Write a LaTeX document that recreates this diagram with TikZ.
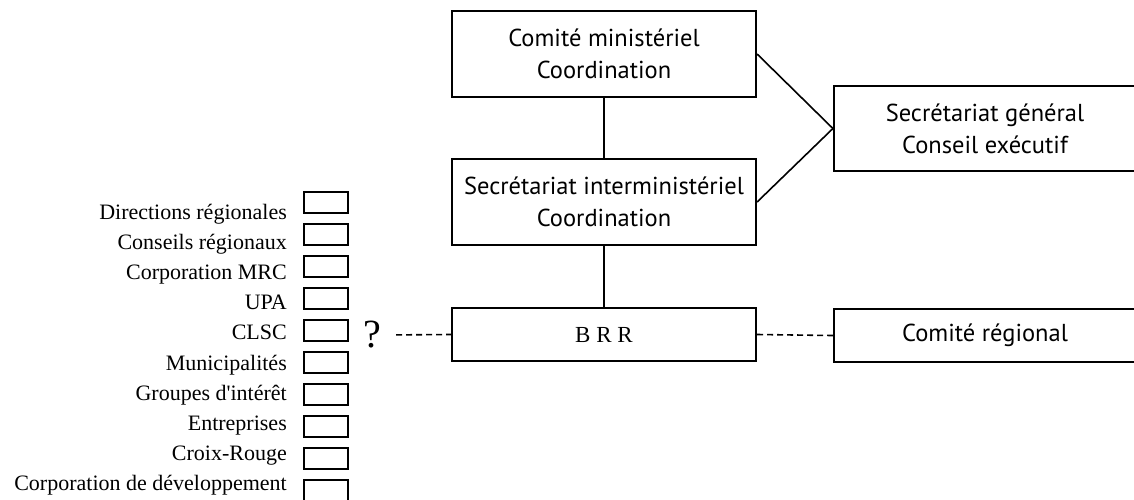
\documentclass[tikz,border=0pt]{standalone}
\usepackage{fontspec}
\setmainfont{Liberation Serif}
\newfontfamily\boxfont{PT Sans}
\begin{document}
\begin{tikzpicture}[x=1pt,y=-1pt,
  bigbox/.style={draw, line width=2.2pt, inner sep=0pt, align=center,
    font=\boxfont\fontsize{24.5}{32}\selectfont, minimum width=304pt, minimum height=86pt},
  lowbox/.style={bigbox, minimum height=53pt},
  rightbox/.style={bigbox, minimum width=302pt},
  smallbox/.style={draw, line width=2pt, inner sep=0pt, minimum width=44pt, minimum height=21pt},
  lab/.style={anchor=base east, inner sep=0pt, font=\fontsize{22}{26}\selectfont},
  link/.style={line width=1.6pt},
  dlink/.style={line width=1.6pt, dash pattern=on 6pt off 4pt}]
\useasboundingbox (0,0) rectangle (1134,499);
\clip (0,0) rectangle (1134,499);

% main boxes
\node[bigbox] (cm) at (604,54) {Comité ministériel\\Coordination};
\node[bigbox] (si) at (604,202) {Secrétariat interministériel\\Coordination};
\node[lowbox, font=\fontsize{23}{26}\selectfont] (brr) at (604,334.5) {B R R};
\node[rightbox, minimum height=85pt] (sg) at (985,128.5) {Secrétariat général\\Conseil exécutif};
\node[rightbox, minimum height=53pt] (cr) at (985,335.5) {Comité régional};

\draw[link] (cm) -- (si);
\draw[link] (si) -- (brr);
\draw[link] (cm.east) -- (sg.west) -- (si.east);
\draw[dlink] (brr.east) -- (cr.west);

% question mark
\node[inner sep=0pt, font=\fontsize{40}{44}\selectfont] (q) at (372,335) {?};
\draw[dlink, shorten <=15pt] (q.east) -- (brr.west);

% list of regional actors
\foreach \i/\t in {1/Directions régionales, 2/Conseils régionaux, 3/Corporation MRC,
  4/UPA, 5/CLSC, 6/Municipalités, 7/Groupes d\textquotesingle intérêt, 8/Entreprises,
  9/Croix-Rouge, 10/Corporation de développement}{
  \node[smallbox] (b\i) at (326,{202.5+32*(\i-1)}) {};
  \node[lab] (l\i) at (287,{219+30.2*(\i-1)}) {\t};
}
\end{tikzpicture}
\end{document}
